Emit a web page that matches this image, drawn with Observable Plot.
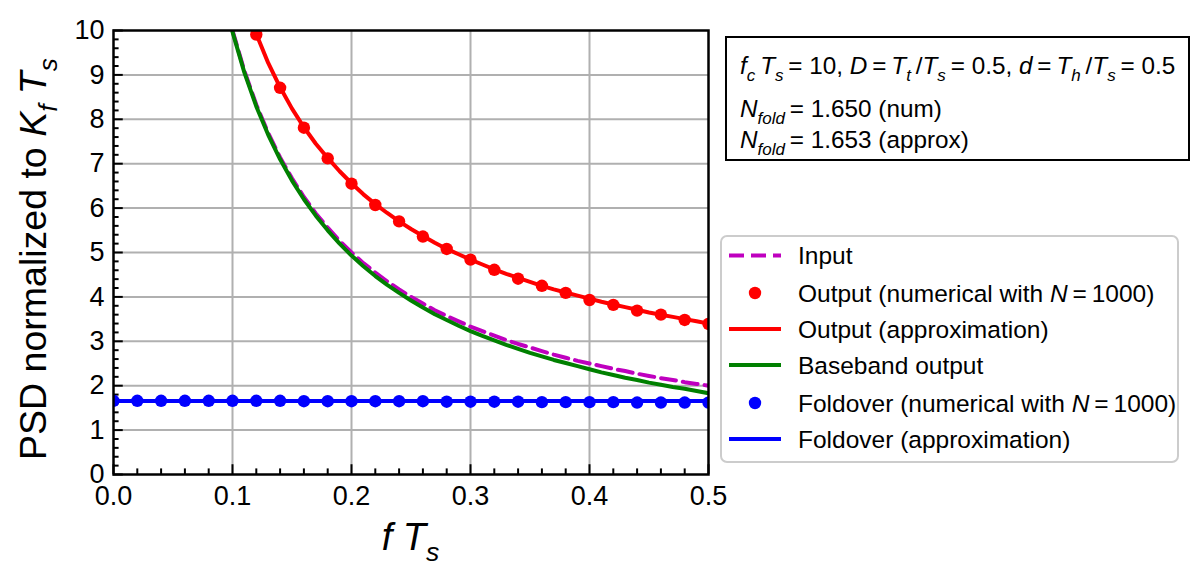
<!DOCTYPE html>
<html><head><meta charset="utf-8">
<script src="https://cdn.jsdelivr.net/npm/d3@7"></script>
<script src="https://cdn.jsdelivr.net/npm/@observablehq/plot@0.6"></script>
<style>
body{margin:0;background:#fff;}
svg{font-family:"Liberation Sans",Arial,sans-serif;}
</style>
</head><body><div id="chart"></div>
<script>
// ---------- data ----------
const fCurve = [0.10,0.11,0.12,0.13,0.14,0.15,0.16,0.17,0.18,0.19,0.20,0.21,0.22,0.23,0.24,0.25,0.26,0.27,0.28,0.29,0.30,
                0.31,0.32,0.33,0.34,0.35,0.36,0.37,0.38,0.39,0.40,0.41,0.42,0.43,0.44,0.45,0.46,0.47,0.48,0.49,0.50];
const inputPSD = [10.0,9.09,8.33,7.69,7.14,6.67,6.25,5.88,5.56,5.26,5.00,4.76,4.55,4.35,4.17,4.00,3.85,3.70,3.57,3.45,3.33,
                  3.23,3.13,3.03,2.94,2.86,2.78,2.70,2.63,2.56,2.50,2.44,2.38,2.33,2.27,2.22,2.17,2.13,2.08,2.04,2.00];
const basebandPSD = [9.97,9.05,8.29,7.65,7.10,6.62,6.20,5.83,5.50,5.20,4.93,4.69,4.47,4.27,4.09,3.92,3.76,3.61,3.48,3.35,3.23,
                     3.12,3.02,2.92,2.83,2.74,2.66,2.58,2.51,2.44,2.37,2.30,2.24,2.18,2.13,2.07,2.02,1.97,1.93,1.88,1.83];
const outputApprox = [11.6,10.7,9.92,9.27,8.72,8.24,7.82,7.45,7.13,6.83,6.56,6.31,6.09,5.89,5.70,5.53,5.37,5.22,5.08,4.96,4.84,
                      4.73,4.62,4.52,4.43,4.34,4.25,4.17,4.10,4.03,3.96,3.89,3.83,3.77,3.71,3.65,3.60,3.55,3.50,3.45,3.40];
const fOutDots = [0.12,0.14,0.16,0.18,0.20,0.22,0.24,0.26,0.28,0.30,0.32,0.34,0.36,0.38,0.40,0.42,0.44,0.46,0.48,0.50];
const outputNum = [9.91,8.71,7.81,7.12,6.55,6.07,5.70,5.36,5.08,4.84,4.61,4.41,4.25,4.09,3.93,3.82,3.69,3.60,3.48,3.39];
const fFoldDots = [0.00,0.02,0.04,0.06,0.08,0.10,0.12,0.14,0.16,0.18,0.20,0.22,0.24,0.26,0.28,0.30,0.32,0.34,0.36,0.38,0.40,0.42,0.44,0.46,0.48,0.50];
const foldNum = [1.66,1.66,1.66,1.66,1.66,1.66,1.66,1.66,1.65,1.65,1.65,1.65,1.65,1.65,1.64,1.64,1.64,1.64,1.63,1.63,1.63,1.63,1.62,1.62,1.62,1.62];
const fFoldLine = [0.0,0.5];
const foldApprox = [1.653,1.653];
const xTicks = [0,0.1,0.2,0.3,0.4,0.5];
const xMinor = [0.02,0.04,0.06,0.08,0.12,0.14,0.16,0.18,0.22,0.24,0.26,0.28,0.32,0.34,0.36,0.38,0.42,0.44,0.46,0.48];
const yTicks = [0,1,2,3,4,5,6,7,8,9,10];
const yMinor = [0.2,0.4,0.6,0.8,1.2,1.4,1.6,1.8,2.2,2.4,2.6,2.8,3.2,3.4,3.6,3.8,4.2,4.4,4.6,4.8,5.2,5.4,5.6,5.8,
                6.2,6.4,6.6,6.8,7.2,7.4,7.6,7.8,8.2,8.4,8.6,8.8,9.2,9.4,9.6,9.8];
const legendLabels = ["Input","Output (numerical with N = 1000)","Output (approximation)","Baseband output","Foldover (numerical with N = 1000)","Foldover (approximation)"];

// ---------- tables ----------
const curves = fCurve.map((f,i)=>({f, input: inputPSD[i], base: basebandPSD[i], out: outputApprox[i]}));
const outDots = fOutDots.map((f,i)=>({f, v: outputNum[i]}));
const foldDots = fFoldDots.map((f,i)=>({f, v: foldNum[i]}));
const foldLine = fFoldLine.map((f,i)=>({f, v: foldApprox[i]}));

const W = 1196, H = 583;
const L = 113, R = 708, T = 30, B = 474;
const FONT = '"Liberation Sans",Arial,sans-serif';
const grid = {stroke:"#b0b0b0", strokeOpacity:1, strokeWidth:2};
const tk = {stroke:"black", strokeWidth:2};
const lw = 4;

const svg = Plot.plot({
  width: W, height: H,
  marginLeft: L, marginRight: W - R, marginTop: T, marginBottom: H - B,
  style: {fontFamily: FONT, background: "white", color: "black"},
  x: {domain: [0, 0.5], label: null},
  y: {domain: [0, 10], label: null},
  marks: [
    Plot.gridX(xTicks.slice(1, -1), grid),
    Plot.gridY(yTicks.slice(1, -1), grid),
    Plot.ruleX(xTicks, {y1: 0, y2: 0.22, ...tk}),
    Plot.ruleX(xMinor, {y1: 0, y2: 0.126, ...tk}),
    Plot.ruleY(yTicks, {x1: 0, x2: 0.0082, ...tk}),
    Plot.ruleY(yMinor, {x1: 0, x2: 0.0047, ...tk}),
    Plot.line(curves, {x: "f", y: "input", stroke: "#bf00bf", strokeWidth: lw, strokeDasharray: "15,7", clip: true}),
    Plot.dot(outDots, {x: "f", y: "v", r: 6.2, fill: "red", stroke: "none", clip: true}),
    Plot.line(curves, {x: "f", y: "out", stroke: "red", strokeWidth: lw, clip: true}),
    Plot.line(curves, {x: "f", y: "base", stroke: "green", strokeWidth: lw, clip: true}),
    Plot.dot(foldDots, {x: "f", y: "v", r: 6.2, fill: "blue", stroke: "none", clip: true}),
    Plot.line(foldLine, {x: "f", y: "v", stroke: "blue", strokeWidth: lw, clip: true}),
    Plot.axisX(xTicks, {tickSize: 0, tickPadding: 11, tickFormat: d3.format(".1f"), fontSize: 27, label: null}),
    Plot.axisY(yTicks, {tickSize: 0, tickPadding: 9, fontSize: 27, label: null}),
    Plot.frame({stroke: "black", strokeWidth: 2.5})
  ]
});
document.getElementById("chart").appendChild(svg);

// ---------- rich text helper ----------
const S = d3.select(svg);
function rich(parent, x, y, segs, size, anchor) {
  const t = parent.append("text").attr("x", x).attr("y", y)
    .attr("font-size", size).attr("text-anchor", anchor || "start")
    .attr("fill", "black").style("white-space", "pre").attr("font-family", FONT);
  let shift = 0;
  for (const s of segs) {
    const sp = t.append("tspan").text(s.t);
    if (s.i) sp.attr("font-style", "italic");
    const target = s.sub ? size * 0.28 : 0;
    if (target !== shift) { sp.attr("dy", target - shift); shift = target; }
    if (s.sub) sp.attr("font-size", size * 0.7);
  }
  return t;
}
const th = "\u2009";

// axis labels
rich(S, (L + R) / 2, 550, [{t:"f",i:1},{t:" "},{t:"T",i:1},{t:"s",i:1,sub:1}], 38, "middle");
const yl = S.append("g").attr("transform", `translate(46,${(T + B) / 2 + 7}) rotate(-90)`);
rich(yl, 0, 0, [{t:"PSD normalized to "},{t:"K",i:1},{t:"f",i:1,sub:1},{t:" "},{t:"T",i:1},{t:"s",i:1,sub:1}], 37.5, "middle");

// annotation box
S.append("rect").attr("x", 726).attr("y", 37).attr("width", 463).attr("height", 123)
  .attr("fill", "white").attr("stroke", "black").attr("stroke-width", 2);
const A = 24.3;
rich(S, 740, 74, [{t:"f",i:1},{t:"c",i:1,sub:1},{t:th+"T",i:1},{t:"s",i:1,sub:1},{t:th+"= 10, "},
  {t:"D",i:1},{t:th+"="+th},{t:"T",i:1},{t:"t",i:1,sub:1},{t:th+"/"},{t:"T",i:1},{t:"s",i:1,sub:1},{t:th+"= 0.5, "},
  {t:"d",i:1},{t:th+"="+th},{t:"T",i:1},{t:"h",i:1,sub:1},{t:th+"/"},{t:"T",i:1},{t:"s",i:1,sub:1},{t:th+"= 0.5"}], A);
rich(S, 740, 117, [{t:"N",i:1},{t:"fold",i:1,sub:1},{t:th+"= 1.650 (num)"}], A);
rich(S, 740, 148, [{t:"N",i:1},{t:"fold",i:1,sub:1},{t:th+"= 1.653 (approx)"}], A);

// legend
S.append("rect").attr("x", 721).attr("y", 236).attr("width", 457).attr("height", 226).attr("rx", 6)
  .attr("fill", "white").attr("fill-opacity", 0.8).attr("stroke", "#cccccc").attr("stroke-width", 2);
const rows = [255.5, 293, 329, 365, 403, 439];
const sw = [
  {type:"line", color:"#bf00bf", dash:"15,7"},
  {type:"dot", color:"red"},
  {type:"line", color:"red"},
  {type:"line", color:"green"},
  {type:"dot", color:"blue"},
  {type:"line", color:"blue"}
];
sw.forEach((s, i) => {
  const cy = rows[i];
  if (s.type === "line") {
    S.append("line").attr("x1", 729).attr("x2", 781).attr("y1", cy).attr("y2", cy)
      .attr("stroke", s.color).attr("stroke-width", lw).attr("stroke-dasharray", s.dash || null);
  } else {
    S.append("circle").attr("cx", 755).attr("cy", cy).attr("r", 6.2).attr("fill", s.color);
  }
  const lab = legendLabels[i];
  const m = lab.indexOf("N = ");
  const segs = m < 0 ? [{t: lab}] : [{t: lab.slice(0, m)}, {t: "N", i: 1}, {t: th + "=" + th + lab.slice(m + 4)}];
  rich(S, 798, cy + 8.5, segs, 24.5);
});
</script>
</body></html>
